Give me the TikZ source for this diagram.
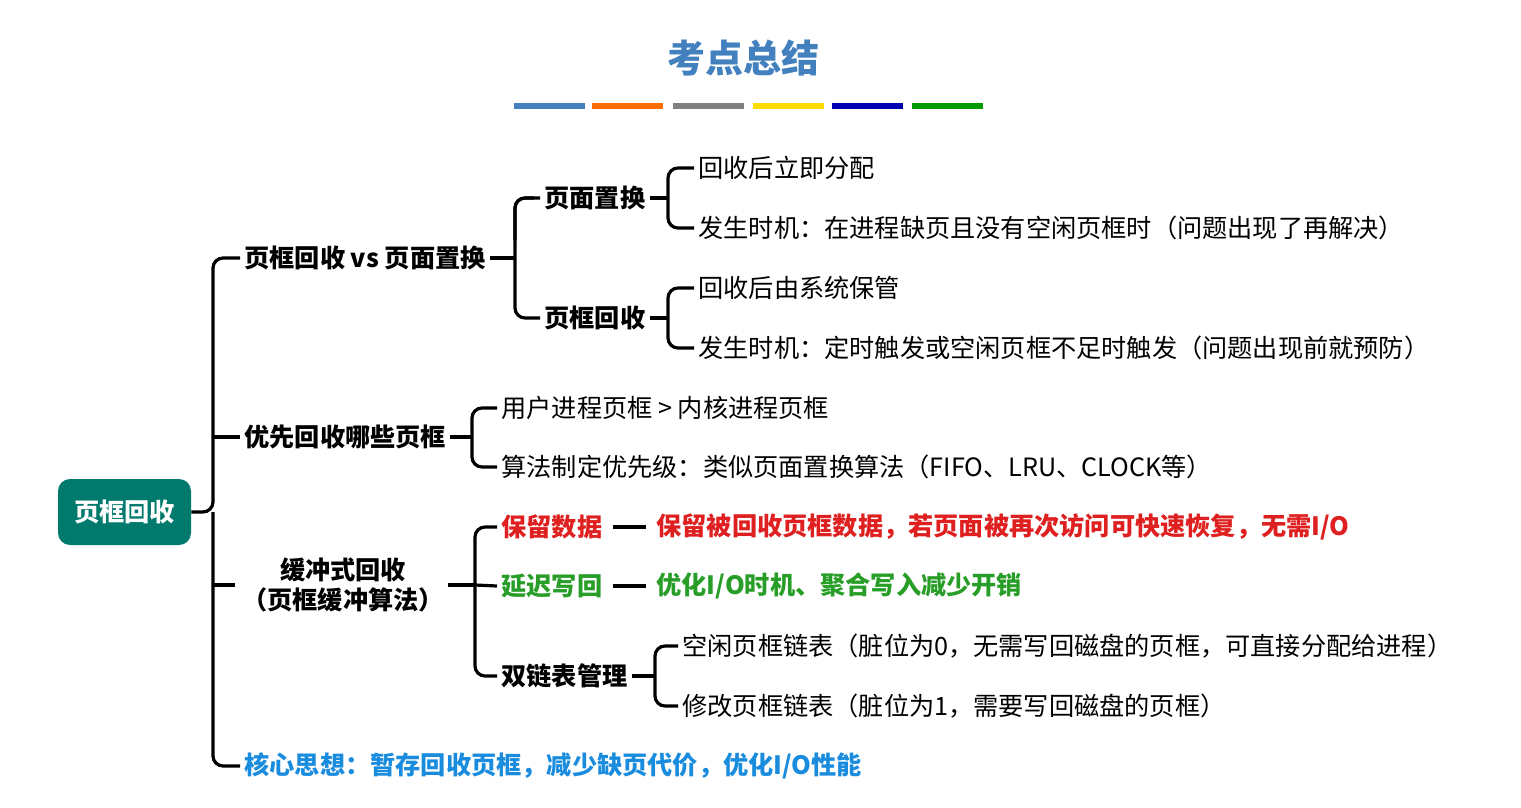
\documentclass[tikz,border=0pt]{standalone}
\usepackage{fontspec}
\setmainfont{Noto Sans CJK SC}
\usetikzlibrary{positioning}
\definecolor{teal}{RGB}{0,122,108}
\definecolor{ttl}{RGB}{66,128,190}
\definecolor{rd}{RGB}{222,32,32}
\definecolor{gn}{RGB}{40,158,40}
\definecolor{bl}{RGB}{26,140,222}
\tikzset{
  lv/.style={anchor=west,inner sep=2pt,font=\fontsize{12.6}{15}\selectfont\bfseries},
  leaf/.style={anchor=west,inner sep=2pt,font=\fontsize{12.6}{15}\selectfont},
  br/.style={line width=1.6pt,rounded corners=5pt},
  bar/.style={line width=3pt}
}
\begin{document}
\begin{tikzpicture}[x=0.5pt,y=-0.5pt]
\useasboundingbox (0,0) rectangle (1521,808);

% title
\node[font=\fontsize{19}{23}\selectfont\bfseries,text=ttl] (title) at (743,58) {考点总结};
\foreach \a/\b/\c in {514/585/ttl,592/663/orange!85!red,673/744/gray,753/824/yellow!80!orange,832/903/blue!70!black,912/983/green!60!black}
  \draw[bar,\c] (\a,106) -- (\b,106);

% root
\node[fill=teal,rounded corners=6pt,minimum width=66.5pt,minimum height=33pt,text=white,font=\fontsize{12.6}{15}\selectfont\bfseries] (root) at (124.5,512) {页框回收};

\node[lv] (vs) at (240,258) {页框回收 vs 页面置换};
\node[lv] (pri) at (240,437) {优先回收哪些页框};
\node[lv,align=center,anchor=center] (buf) at (343,585) {缓冲式回收\\（页框缓冲算法）};
\node[lv,text=bl] (core) at (240,766) {核心思想：暂存回收页框，减少缺页代价，优化I/O性能};

\draw[br] (root.east) -- (213,512) -- (213,258) -- (vs.west);
\draw[br] (213,512) -- (213,766) -- (core.west);
\draw[br] (213,437) -- (pri.west);
\draw[br] (213,585) -- (235,585);

% level 2
\node[lv] (rep) at (540,198) {页面置换};
\node[lv] (rec) at (540,318) {页框回收};
\draw[br] (vs.east) -- (515,258);
\draw[br] (534,198) -- (515,198) -- (515,318) -- (rec.west);
\draw[br] (515,240) |- (rep.west);

\node[leaf] (r1) at (694,168) {回收后立即分配};
\node[leaf] (r2) at (694,228) {发生时机：在进程缺页且没有空闲页框时（问题出现了再解决）};
\draw[br] (rep.east) -- (668,198);
\draw[br] (668,198) |- (r1.west);
\draw[br] (668,198) |- (r2.west);

\node[leaf] (c1) at (694,288) {回收后由系统保管};
\node[leaf] (c2) at (694,348) {发生时机：定时触发或空闲页框不足时触发（问题出现前就预防）};
\draw[br] (rec.east) -- (668,318);
\draw[br] (668,318) |- (c1.west);
\draw[br] (668,318) |- (c2.west);

\node[leaf] (p1) at (497,408) {用户进程页框 > 内核进程页框};
\node[leaf] (p2) at (497,467) {算法制定优先级：类似页面置换算法（FIFO、LRU、CLOCK等）};
\draw[br] (pri.east) -- (472,437);
\draw[br] (472,437) |- (p1.west);
\draw[br] (472,437) |- (p2.west);

% buffer
\node[lv,text=rd] (keep) at (497,527) {保留数据};
\node[lv,text=gn] (late) at (497,586) {延迟写回};
\node[lv] (dbl) at (497,676) {双链表管理};
\draw[br] (buf.east) -- (475,585);
\draw[br] (475,585) |- (keep.west);
\draw[br] (475,585) |- (dbl.west);
\draw[br] (475,585) -- (late.west);

\node[lv,text=rd] (k1) at (652,527) {保留被回收页框数据，若页面被再次访问可快速恢复，无需I/O};
\node[lv,text=gn] (l1) at (652,586) {优化I/O时机、聚合写入减少开销};
\draw[line width=1.6pt] (keep.east) ++(6,0) -- ([xshift=-3]k1.west);
\draw[line width=1.6pt] (late.east) ++(6,0) -- ([xshift=-3]l1.west);

\node[leaf] (d1) at (678,646) {空闲页框链表（脏位为0，无需写回磁盘的页框，可直接分配给进程）};
\node[leaf] (d2) at (678,706) {修改页框链表（脏位为1，需要写回磁盘的页框）};
\draw[br] (dbl.east) -- (655,676);
\draw[br] (655,676) |- (d1.west);
\draw[br] (655,676) |- (d2.west);
\end{tikzpicture}
\end{document}
